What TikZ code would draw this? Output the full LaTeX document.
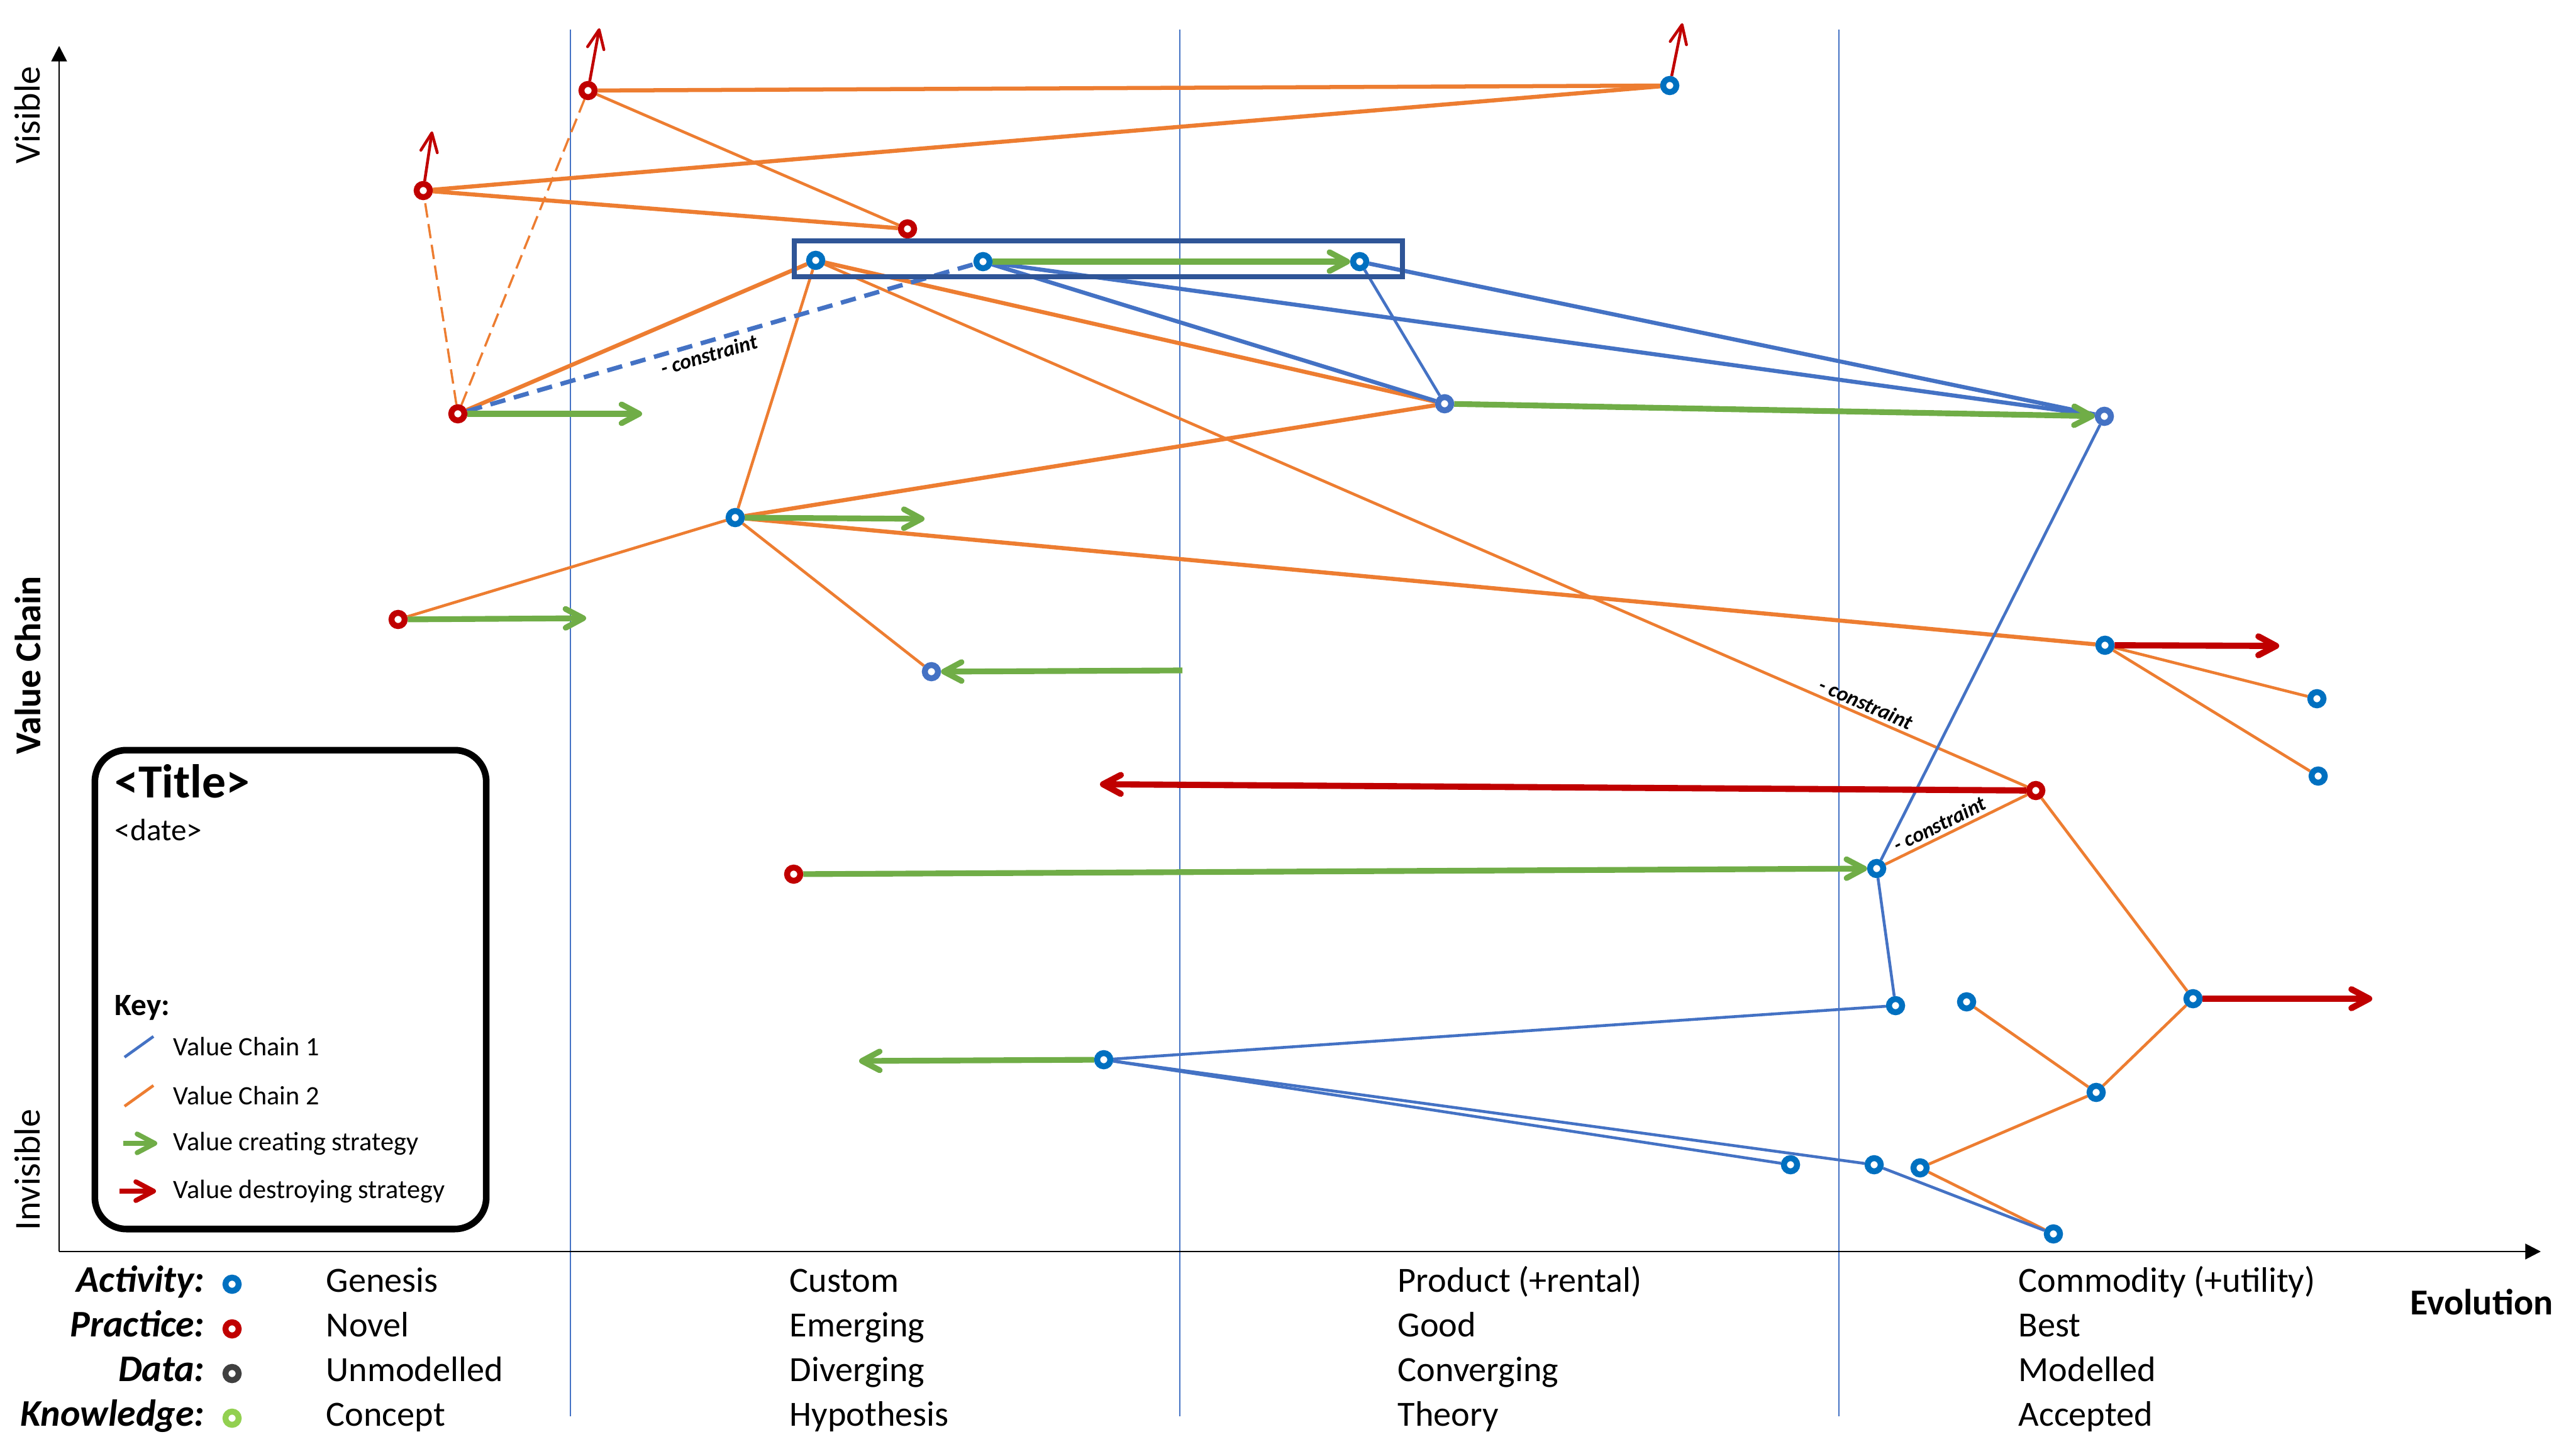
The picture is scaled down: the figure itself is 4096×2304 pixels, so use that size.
\documentclass[tikz,border=0pt]{standalone}
\usepackage{fontspec}
\setmainfont{Carlito}
\usetikzlibrary{arrows.meta}
\definecolor{vcorange}{HTML}{ED7D31}
\definecolor{vcblue}{HTML}{4472C4}
\definecolor{actblue}{HTML}{0070C0}
\definecolor{pracred}{HTML}{C00000}
\definecolor{datagrey}{HTML}{404040}
\definecolor{knowgreen}{HTML}{92D050}
\definecolor{stratgreen}{HTML}{70AD47}
\definecolor{boxblue}{HTML}{2F5597}
\pgfdeclarelayer{bg}
\pgfsetlayers{bg,main}
\tikzset{
  comp/.style={circle, draw=#1, fill=white, line width=2.7pt, minimum size=0.21cm, inner sep=0pt},
  act/.style={comp=actblue},
  prac/.style={comp=pracred},
  dat/.style={comp=vcblue},
  dgrey/.style={comp=datagrey},
  kgreen/.style={comp=knowgreen},
  vconethick/.style={vcblue, line width=1.85pt},
  vconethin/.style={vcblue, line width=1.3pt},
  vctwothick/.style={vcorange, line width=1.85pt},
  vctwothin/.style={vcorange, line width=1.3pt},
  vctwodash/.style={vcorange, line width=1pt, dash pattern=on 6.5pt off 3pt},
  vconedash/.style={vcblue, line width=2pt, dash pattern=on 7pt off 4pt},
  greenarrow/.style={stratgreen, line width=2.6pt, -{Straight Barb[round, length=8pt, width=8.5pt]}},
  redarrow/.style={pracred, line width=2.8pt, -{Straight Barb[round, length=8pt, width=8.5pt]}},
  redthin/.style={pracred, line width=1.3pt, -{Straight Barb[round, length=8.5pt, width=7.5pt]}},
  gridline/.style={vcblue, line width=0.45pt},
  axisline/.style={black, line width=0.8pt},
  constr/.style={font=\fontsize{9.6}{11}\selectfont\bfseries\itshape, text=black, sloped, inner sep=1.5pt},
  coltext/.style={anchor=base west, inner sep=0pt, font=\fontsize{16}{19}\selectfont},
  rowlabel/.style={anchor=base east, inner sep=0pt, font=\fontsize{17}{19}\selectfont\bfseries\itshape},
  keytext/.style={anchor=west, inner sep=0pt, font=\fontsize{12}{14}\selectfont},
}
\begin{document}
\begin{tikzpicture}[x=0.01cm, y=-0.01cm]
\useasboundingbox (0,0) rectangle (4096,2304);

% ---------- components ----------
\node[prac] (P1) at (935,144) {};
\node[act]  (A1) at (2655,136) {};
\node[prac] (P2) at (673,303) {};
\node[prac] (P3) at (1443,364) {};
\node[draw=boxblue, line width=2.2pt, minimum width=9.67cm, minimum height=0.57cm, inner sep=0pt] (grp) at (1746.5,411.5) {};
\node[act]  (A2) at (1297,414) {};
\node[act]  (A3) at (1563,416) {};
\node[act]  (A4) at (2162,416) {};
\node[dat]  (A5) at (2297,642) {};
\node[dat]  (A6) at (3346,662) {};
\node[prac] (P4) at (728,658) {};
\node[act]  (A7) at (1169,823) {};
\node[prac] (P5) at (633,985) {};
\node[dat]  (A8) at (1481,1068) {};
\node[act]  (A9) at (3347,1026) {};
\node[act]  (A10) at (3684,1111) {};
\node[act]  (A11) at (3686,1234) {};
\node[prac] (P6) at (3237,1257) {};
\node[prac] (P7) at (1262,1390) {};
\node[act]  (A12) at (2984,1381) {};
\node[act]  (A13) at (3014,1599) {};
\node[act]  (A14) at (3487,1588) {};
\node[act]  (A15) at (3333,1737) {};
\node[act]  (A16) at (3127,1593) {};
\node[act]  (A17) at (3053,1857) {};
\node[act]  (A18) at (3265,1962) {};
\node[act]  (A19) at (1755,1685) {};
\node[act]  (A20) at (2847,1852) {};
\node[act]  (A21) at (2980,1852) {};

% free ends
\coordinate (t1) at (953,45);
\coordinate (t2) at (687,209);
\coordinate (t3) at (2675,37);
\coordinate (g1) at (1021,658);
\coordinate (g2) at (1470,825);
\coordinate (g3) at (932,983);
\coordinate (g4) at (1880,1066);
\coordinate (g5) at (1366,1687);
\coordinate (r1) at (3624,1027);
\coordinate (r2) at (1749,1247);
\coordinate (r3) at (3772,1588);

% axes and grid
\coordinate (O) at (94,1990);
\coordinate (Ytop) at (94,73);
\coordinate (Xend) at (4040,1990);
\coordinate (v1a) at (907,47);  \coordinate (v1b) at (907,2252);
\coordinate (v2a) at (1876,47); \coordinate (v2b) at (1876,2252);
\coordinate (v3a) at (2924,47); \coordinate (v3b) at (2924,2252);

\begin{pgfonlayer}{bg}
\draw[gridline] (v1a) -- (v1b);
\draw[gridline] (v2a) -- (v2b);
\draw[gridline] (v3a) -- (v3b);
\draw[axisline, -{Triangle[length=7pt, width=7pt]}] (O) -- (Ytop);
\draw[axisline, -{Triangle[length=7pt, width=7pt]}] (O) -- (Xend);

% value chain 2 (orange)
\draw[vctwothick] (P1) -- (A1);
\draw[vctwothick] (P2) -- (A1);
\draw[vctwothick] (P2) -- (P3);
\draw[vctwothin]  (P1) -- (P3);
\draw[vctwodash]  (P4) -- (P2);
\draw[vctwodash]  (P4) -- (P1);
\draw[vctwothick] (P4) -- (A2);
\draw[vctwothick] (A2) -- (A5);
\draw[vctwothin]  (A2) -- (A7);
\draw[vctwothin]  (A2) -- node[constr, pos=0.862, above] {- constraint} (P6);
\draw[vctwothick] (A7) -- (A5);
\draw[vctwothick] (A7) -- (A9);
\draw[vctwothin]  (A7) -- (A8);
\draw[vctwothin]  (P5) -- (A7);
\draw[vctwothin]  (A9) -- (A10);
\draw[vctwothin]  (A9) -- (A11);
\draw[vctwothin]  (A12) -- node[constr, pos=0.42, above] {- constraint} (P6);
\draw[vctwothin]  (P6) -- (A14);
\draw[vctwothin]  (A14) -- (A15);
\draw[vctwothin]  (A16) -- (A15);
\draw[vctwothin]  (A17) -- (A15);
\draw[vctwothin]  (A17) -- (A18);

% value chain 1 (blue)
\draw[vconedash]  (P4) -- node[constr, pos=0.47, below] {- constraint} (A3);
\draw[vconethick] (A3) -- (A5);
\draw[vconethick] (A3) -- (A6);
\draw[vconethick] (A4) -- (A6);
\draw[vconethin]  (A4) -- (A5);
\draw[vconethin]  (A6) -- (A12);
\draw[vconethin]  (A12) -- (A13);
\draw[vconethin]  (A19) -- (A13);
\draw[vconethin]  (A19) -- (A20);
\draw[vconethin]  (A19) -- (A21);
\draw[vconethin]  (A21) -- (A18);

% value creating strategies
\draw[greenarrow] (P4) -- (g1);
\draw[greenarrow] (A3) -- (A4);
\draw[greenarrow] (A5) -- (A6);
\draw[greenarrow] (A7) -- (g2);
\draw[greenarrow] (P5) -- (g3);
\draw[greenarrow] (g4) -- (A8);
\draw[greenarrow] (P7) -- (A12);
\draw[greenarrow] (A19) -- (g5);

% value destroying strategies
\draw[redarrow] (A9) -- (r1);
\draw[redarrow] (P6) -- (r2);
\draw[redarrow] (A14) -- (r3);
\draw[redthin] (P1) -- (t1);
\draw[redthin] (P2) -- (t2);
\draw[redthin] (A1) -- (t3);
\end{pgfonlayer}

% ---------- axis labels ----------
\node[rotate=90, font=\fontsize{16.5}{19}\selectfont] (lvis) at (44,183) {Visible};
\node[rotate=90, font=\fontsize{16.5}{19}\selectfont\bfseries] (lvc) at (44,1058) {Value Chain};
\node[rotate=90, font=\fontsize{16.5}{19}\selectfont] (linv) at (44,1860) {Invisible};
\node[anchor=base east, inner sep=0pt, font=\fontsize{16.5}{19}\selectfont\bfseries] (levo) at (4060,2090) {Evolution};

% ---------- bottom rows ----------
\node[rowlabel] (rl1) at (326,2054) {Activity:};
\node[rowlabel] (rl2) at (326,2125) {Practice:};
\node[rowlabel] (rl3) at (326,2196) {Data:};
\node[rowlabel] (rl4) at (326,2267) {Knowledge:};
\node[act]    (kc1) at (369,2042) {};
\node[prac]   (kc2) at (369,2113) {};
\node[dgrey]  (kc3) at (369,2184) {};
\node[kgreen] (kc4) at (369,2255) {};

\node[coltext] (c11) at (518,2054) {Genesis};
\node[coltext] (c12) at (518,2125) {Novel};
\node[coltext] (c13) at (518,2196) {Unmodelled};
\node[coltext] (c14) at (518,2267) {Concept};
\node[coltext] (c21) at (1255,2054) {Custom};
\node[coltext] (c22) at (1255,2125) {Emerging};
\node[coltext] (c23) at (1255,2196) {Diverging};
\node[coltext] (c24) at (1255,2267) {Hypothesis};
\node[coltext] (c31) at (2222,2054) {Product (+rental)};
\node[coltext] (c32) at (2222,2125) {Good};
\node[coltext] (c33) at (2222,2196) {Converging};
\node[coltext] (c34) at (2222,2267) {Theory};
\node[coltext] (c41) at (3209,2054) {Commodity (+utility)};
\node[coltext] (c42) at (3209,2125) {Best};
\node[coltext] (c43) at (3209,2196) {Modelled};
\node[coltext] (c44) at (3209,2267) {Accepted};

% ---------- key box ----------
\node[draw=black, line width=3pt, rounded corners=0.5cm, minimum width=6.22cm, minimum height=7.61cm, inner sep=0pt, fill=white] (keybox) at (462,1573.5) {};
\node[anchor=base west, inner sep=0pt, font=\fontsize{21.5}{24}\selectfont\bfseries] (ttl) at (182,1268) {<Title>};
\node[anchor=base west, inner sep=0pt, font=\fontsize{14}{16}\selectfont] (dt) at (182,1336) {<date>};
\node[anchor=base west, inner sep=0pt, font=\fontsize{14}{16}\selectfont\bfseries] (ky) at (182,1614) {Key:};
\coordinate (k1a) at (198,1681); \coordinate (k1b) at (244,1648);
\coordinate (k2a) at (198,1759); \coordinate (k2b) at (244,1726);
\coordinate (k3a) at (196,1818); \coordinate (k3b) at (250,1818);
\coordinate (k4a) at (190,1894); \coordinate (k4b) at (248,1894);
\draw[vconethin] (k1a) -- (k1b);
\draw[vctwothin] (k2a) -- (k2b);
\draw[greenarrow, line width=2.2pt] (k3a) -- (k3b);
\draw[redarrow, line width=2.2pt] (k4a) -- (k4b);
\node[keytext] (kt1) at (275,1664) {Value Chain 1};
\node[keytext] (kt2) at (275,1742) {Value Chain 2};
\node[keytext] (kt3) at (275,1818) {Value creating strategy};
\node[keytext] (kt4) at (275,1894) {Value destroying strategy};
\end{tikzpicture}
\end{document}
